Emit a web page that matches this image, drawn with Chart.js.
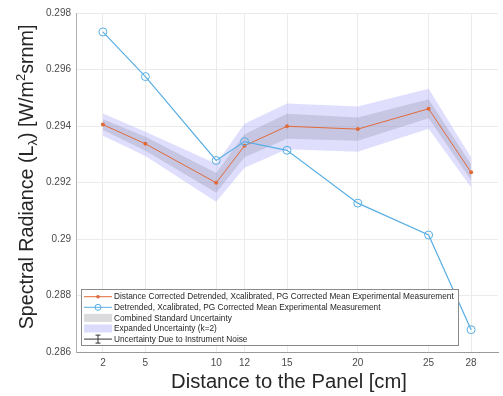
<!DOCTYPE html>
<html>
<head>
<meta charset="utf-8">
<script src="https://cdn.jsdelivr.net/npm/chart.js@4"></script>
<style>
  html, body { margin: 0; padding: 0; background: #fff; }
  #wrap { width: 503px; height: 396px; }
</style>
</head>
<body>
<div id="wrap"><canvas id="radianceChart" width="503" height="396"></canvas></div>
<script>
// distance to panel [cm]
const xValues = [2, 5, 10, 12, 15, 20, 25, 28];
const xTicks = [2, 5, 10, 12, 15, 20, 25, 28];
const yTicks = [0.286, 0.288, 0.29, 0.292, 0.294, 0.296, 0.298];

// mean radiance values
const correctedMean = [0.29405, 0.29337, 0.29199, 0.29330, 0.29399, 0.29389, 0.29461, 0.29236];
const uncorrectedMean = [0.29733, 0.29575, 0.29278, 0.29345, 0.29314, 0.29127, 0.29014, 0.28679];

// half widths of the uncertainty bands
const stdUnc = [0.00019, 0.00025, 0.00035, 0.00041, 0.00044, 0.00041, 0.00034, 0.00028];
const expUnc = [0.00039, 0.00043, 0.00067, 0.00078, 0.00081, 0.00080, 0.00071, 0.00053];

const legendLabels = [
    'Distance Corrected Detrended, Xcalibrated, PG Corrected Mean Experimental Measurement',
    'Detrended, Xcalibrated, PG Corrected Mean Experimental Measurement',
    'Combined Standard Uncertainty',
    'Expanded Uncertainty (k=2)',
    'Uncertainty Due to Instrument Noise'
];

const ORANGE = '#E06A3A';
const BLUE = '#58AEE4';
const LAVENDER = 'rgba(175,175,250,0.40)';
const GREY = 'rgba(110,110,130,0.22)';
const FONT = '"Liberation Sans", Arial, sans-serif';

function pts(vals) {
    return xValues.map((x, i) => ({ x: x, y: vals[i] }));
}
const band = (vals, w, sign) => vals.map((v, i) => v + sign * w[i]);

const bandStyle = { pointRadius: 0, borderWidth: 0, showLine: true, tension: 0 };

// font size so that a text is about `target` px wide
function fitSize(ctx, text, base, target) {
    ctx.font = base + 'px ' + FONT;
    return base * target / ctx.measureText(text).width;
}

// axis titles + legend box drawn on the canvas
const extras = {
    id: 'extras',
    afterDraw(chart) {
        const ctx = chart.ctx;
        ctx.save();
        ctx.fillStyle = '#262626';
        ctx.textBaseline = 'alphabetic';

        // x title
        const xt = 'Distance to the Panel [cm]';
        ctx.font = fitSize(ctx, xt, 20, 236).toFixed(2) + 'px ' + FONT;
        ctx.textAlign = 'center';
        ctx.fillText(xt, 289, 388);

        // y title with sub/superscript
        const parts = [
            { t: 'Spectral Radiance (L', s: 1, dy: 0 },
            { t: '\u03BB', s: 0.66, dy: 0.2 },
            { t: ') [W/m', s: 1, dy: 0 },
            { t: '2', s: 0.66, dy: -0.42 },
            { t: 'srnm]', s: 1, dy: 0 }
        ];
        const measure = fs => {
            let total = 0;
            parts.forEach(p => { ctx.font = (p.s * fs) + 'px ' + FONT; p.w = ctx.measureText(p.t).width; total += p.w; });
            return total;
        };
        const fs = 20 * 305 / measure(20);
        const total = measure(fs);
        ctx.translate(33, 177);
        ctx.rotate(-Math.PI / 2);
        ctx.textAlign = 'left';
        let cx = -total / 2;
        parts.forEach(p => {
            ctx.font = (p.s * fs) + 'px ' + FONT;
            ctx.fillText(p.t, cx, p.dy * fs);
            cx += p.w;
        });
        ctx.restore();

        // legend
        ctx.save();
        const bx = 81, by = 289, bw = 377, bh = 56;
        ctx.fillStyle = '#fff';
        ctx.fillRect(bx, by, bw, bh);
        ctx.strokeStyle = '#8a8a8a';
        ctx.lineWidth = 1;
        ctx.strokeRect(bx + 0.5, by + 0.5, bw, bh);
        const rowY = [296.7, 307.3, 317.9, 328.5, 339.1];
        const ls = fitSize(ctx, legendLabels[0], 9, 340);
        ctx.font = ls.toFixed(2) + 'px ' + FONT;
        ctx.textAlign = 'left';
        ctx.textBaseline = 'middle';
        rowY.forEach((y, i) => {
            if (i === 0 || i === 1 || i === 4) {
                ctx.strokeStyle = i === 0 ? ORANGE : i === 1 ? BLUE : '#333';
                ctx.lineWidth = 1;
                ctx.beginPath();
                ctx.moveTo(84, y); ctx.lineTo(112, y);
                ctx.stroke();
            }
            if (i === 0) {
                ctx.fillStyle = ORANGE;
                ctx.beginPath(); ctx.arc(98, y, 1.8, 0, Math.PI * 2); ctx.fill();
            } else if (i === 1) {
                ctx.strokeStyle = BLUE;
                ctx.beginPath(); ctx.arc(98, y, 3, 0, Math.PI * 2); ctx.stroke();
            } else if (i === 2) {
                ctx.fillStyle = 'rgba(215,215,218,0.9)';
                ctx.fillRect(84, y - 4, 28, 8);
            } else if (i === 3) {
                ctx.fillStyle = 'rgba(215,215,252,0.9)';
                ctx.fillRect(84, y - 4, 28, 8);
            } else {
                ctx.strokeStyle = '#333';
                ctx.beginPath();
                ctx.moveTo(98, y - 4); ctx.lineTo(98, y + 4);
                ctx.moveTo(95.5, y - 4); ctx.lineTo(100.5, y - 4);
                ctx.moveTo(95.5, y + 4); ctx.lineTo(100.5, y + 4);
                ctx.stroke();
            }
            ctx.fillStyle = '#262626';
            ctx.fillText(legendLabels[i], 114, y + 0.5);
        });
        ctx.restore();
    }
};

new Chart(document.getElementById('radianceChart'), {
    type: 'scatter',
    data: {
        datasets: [
            { data: pts(band(correctedMean, expUnc, 1)), ...bandStyle, fill: false, order: 5 },
            { data: pts(band(correctedMean, expUnc, -1)), ...bandStyle, fill: '-1', backgroundColor: LAVENDER, order: 5 },
            { data: pts(band(correctedMean, stdUnc, 1)), ...bandStyle, fill: false, order: 4 },
            { data: pts(band(correctedMean, stdUnc, -1)), ...bandStyle, fill: '-1', backgroundColor: GREY, order: 4 },
            {
                data: pts(correctedMean), showLine: true, tension: 0, order: 1,
                borderColor: ORANGE, borderWidth: 1,
                pointRadius: 2, pointBackgroundColor: ORANGE, pointBorderWidth: 0
            },
            {
                data: pts(uncorrectedMean), showLine: true, tension: 0, order: 0,
                borderColor: BLUE, borderWidth: 1.2,
                pointRadius: 4, pointBackgroundColor: 'rgba(255,255,255,0)',
                pointBorderColor: BLUE, pointBorderWidth: 1
            }
        ]
    },
    options: {
        responsive: false,
        animation: false,
        layout: { padding: { left: 0, top: 13, right: 0, bottom: 0 } },
        plugins: { legend: { display: false }, tooltip: { enabled: false } },
        scales: {
            x: {
                type: 'linear',
                min: 0.1,
                max: 29.9,
                afterBuildTicks: s => { s.ticks = xTicks.map(v => ({ value: v })); },
                afterFit: s => { s.height = 44; },
                grid: { color: '#ebebeb', drawTicks: false },
                border: { color: '#9a9a9a' },
                ticks: { padding: 5, color: '#4a4a4a', font: { size: 10, family: FONT } }
            },
            y: {
                min: 0.286,
                max: 0.298,
                afterBuildTicks: s => { s.ticks = yTicks.map(v => ({ value: v })); },
                afterFit: s => { s.width = 76; },
                grid: { color: '#ebebeb', drawTicks: false },
                border: { color: '#b0b0b0' },
                ticks: {
                    padding: 5, color: '#4a4a4a', font: { size: 10, family: FONT },
                    callback: v => String(+v.toFixed(3))
                }
            }
        }
    },
    plugins: [extras]
});
</script>
</body>
</html>
